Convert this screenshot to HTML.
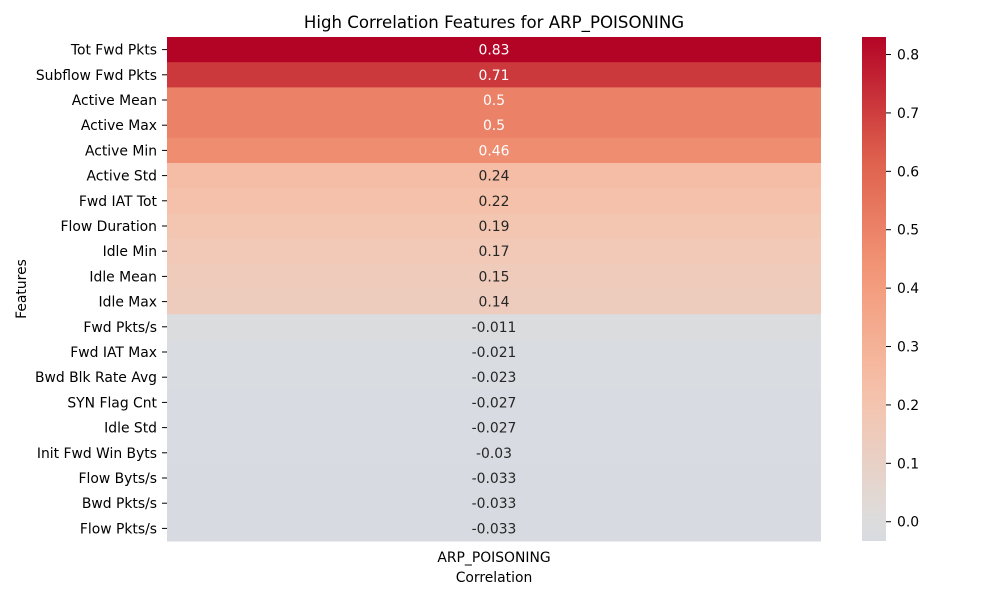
<!DOCTYPE html>
<html><head><meta charset="utf-8"><style>
body{margin:0;background:#fff;font-family:"Liberation Sans","DejaVu Sans",sans-serif;}
svg text{font-family:"DejaVu Sans","Liberation Sans",sans-serif;}
</style></head><body>
<svg id="chart" width="1000" height="600" xmlns="http://www.w3.org/2000/svg">
<defs><linearGradient id="cbgrad" x1="0" y1="1" x2="0" y2="0"></linearGradient></defs>
<text x="494" y="28" font-size="16.6" text-anchor="middle" fill="#000">High Correlation Features for ARP_POISONING</text>
<g id="cells"></g><g id="ylabels"></g>
<text transform="translate(26,289) rotate(-90)" font-size="13.9" text-anchor="middle">Features</text>
<text x="494" y="562" font-size="13.9" text-anchor="middle">ARP_POISONING</text>
<text x="494" y="582" font-size="13.9" text-anchor="middle">Correlation</text>
<rect x="862" y="37" width="24" height="504" fill="url(#cbgrad)"/>
<g id="cbticks"></g>
</svg>
<script>
const features=["Tot Fwd Pkts","Subflow Fwd Pkts","Active Mean","Active Max","Active Min","Active Std","Fwd IAT Tot","Flow Duration","Idle Min","Idle Mean","Idle Max","Fwd Pkts/s","Fwd IAT Max","Bwd Blk Rate Avg","SYN Flag Cnt","Idle Std","Init Fwd Win Byts","Flow Byts/s","Bwd Pkts/s","Flow Pkts/s"];
const values=[0.83,0.71,0.5,0.5,0.46,0.24,0.22,0.19,0.17,0.15,0.14,-0.011,-0.021,-0.023,-0.027,-0.027,-0.03,-0.033,-0.033,-0.033];
const cbTicks=[0.0,0.1,0.2,0.3,0.4,0.5,0.6,0.7,0.8];
const NS="http://www.w3.org/2000/svg";
const vmin=Math.min(...values),vmax=Math.max(...values);
const vr=Math.max(vmax,-vmin);
const X0=167,X1=821,Y0=37,Y1=541;
const rowH=(Y1-Y0)/features.length;
const FS='13.9';
const cw=[[0,59,76,192],[0.125,98,130,234],[0.25,141,176,254],[0.375,184,208,249],[0.5,221,221,221],[0.625,245,196,173],[0.75,244,154,123],[0.875,222,96,77],[1,180,4,38]];
function cmap(v){let t=(v+vr)/(2*vr);t=Math.max(0,Math.min(1,t));
 for(let i=1;i<cw.length;i++){if(t<=cw[i][0]){const a=cw[i-1],b=cw[i],f=(t-a[0])/(b[0]-a[0]);
 return [1,2,3].map(k=>Math.round(a[k]+(b[k]-a[k])*f));}}return cw[8].slice(1);}
function rgb(c){return `rgb(${c[0]},${c[1]},${c[2]})`;}
function lum(c){const l=c.map(x=>{x/=255;return x<=0.03928?x/12.92:Math.pow((x+0.055)/1.055,2.4)});return 0.2126*l[0]+0.7152*l[1]+0.0722*l[2];}
const cells=document.getElementById('cells'),yl=document.getElementById('ylabels');
features.forEach((f,i)=>{
 const y=Y0+i*rowH,c=cmap(values[i]);
 const r=document.createElementNS(NS,'rect');
 r.setAttribute('x',X0);r.setAttribute('y',y);r.setAttribute('width',X1-X0);r.setAttribute('height',rowH+0.5);r.setAttribute('fill',rgb(c));
 
 
 cells.appendChild(r);
 const t=document.createElementNS(NS,'text');
 t.setAttribute('x',(X0+X1)/2);t.setAttribute('y',y+rowH/2+5);t.setAttribute('font-size',FS);t.setAttribute('text-anchor','middle');
 t.setAttribute('fill',lum(c)>0.408?'#262626':'#fff');t.textContent=String(values[i]);
 
 
 cells.appendChild(t);
 const l=document.createElementNS(NS,'text');
 l.setAttribute('x',157);l.setAttribute('y',y+rowH/2+5);l.setAttribute('font-size',FS);l.setAttribute('text-anchor','end');l.textContent=f;
 
 
 yl.appendChild(l);
 const tk=document.createElementNS(NS,'line');
 tk.setAttribute('x1',162);tk.setAttribute('x2',167);tk.setAttribute('y1',y+rowH/2);tk.setAttribute('y2',y+rowH/2);tk.setAttribute('stroke','#000');
 
 
 yl.appendChild(tk);
});
const g=document.getElementById('cbgrad');
for(let i=0;i<=20;i++){const v=vmin+(vmax-vmin)*i/20;const s=document.createElementNS(NS,'stop');s.setAttribute('offset',i/20);s.setAttribute('stop-color',rgb(cmap(v)));g.appendChild(s);}
const cbt=document.getElementById('cbticks');
function cbY(v){return Y1-(v-vmin)/(vmax-vmin)*(Y1-Y0);}
cbTicks.forEach(v=>{const y=cbY(v);
 const l=document.createElementNS(NS,'line');l.setAttribute('x1',886);l.setAttribute('x2',891);l.setAttribute('y1',y);l.setAttribute('y2',y);l.setAttribute('stroke','#000');
 
 
 cbt.appendChild(l);
 const t=document.createElementNS(NS,'text');t.setAttribute('x',897);t.setAttribute('y',y+5);t.setAttribute('font-size',FS);t.textContent=v.toFixed(1);
 
 
 cbt.appendChild(t);
});
</script>
</body></html>
